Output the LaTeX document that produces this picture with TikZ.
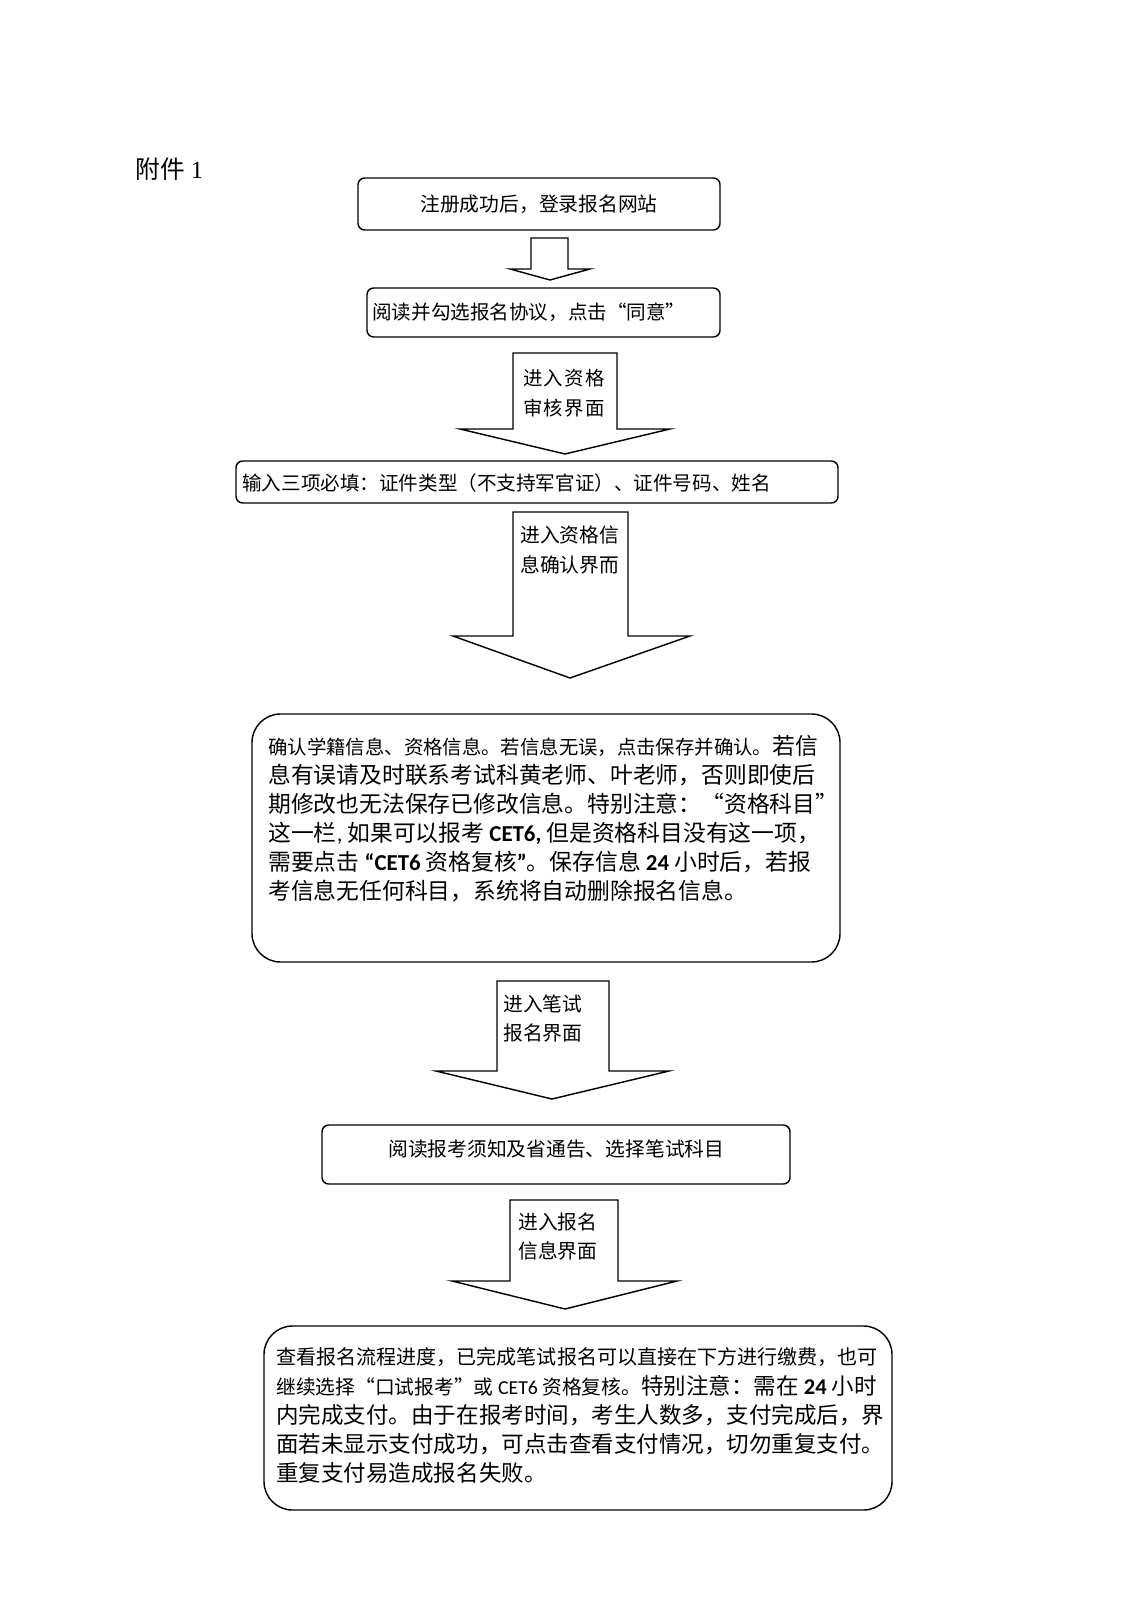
\documentclass[tikz,border=0pt]{standalone}
\usepackage{fontspec}
\setmainfont{Liberation Serif}
\newfontfamily\cjk{Noto Sans CJK SC}
\newfontfamily\cjksp{Noto Sans CJK SC}[LetterSpace=6]
\newfontfamily\latb{Carlito}
\usetikzlibrary{fit}
\newcommand{\fsz}[1]{\fontsize{#1}{#1}\selectfont}
\begin{document}
\begin{tikzpicture}[x=0.5263pt,y=-0.5263pt,
  box/.style={draw, line width=0.75pt, rounded corners=3.5pt, inner sep=0pt},
  bigbox/.style={draw, line width=0.75pt, rounded corners=15pt, inner sep=0pt},
  blockarrow/.style={draw, line width=0.75pt, line join=miter},
  txt/.style={inner sep=0pt, anchor=west, font=\cjk\fsz{10.4}},
  small/.style={inner sep=0pt, anchor=west, font=\cjk\fsz{10.3}},
  large/.style={inner sep=0pt, anchor=west, font=\cjk\fsz{12}},
  lbl/.style={inner sep=0pt, anchor=west, font=\cjk\fsz{10.4}}]
\useasboundingbox (0,0) rectangle (1131,1600);

% title
\node[inner sep=0pt, anchor=west, font=\fsz{13}] (title) at (135,169) {{\cjk 附件} 1};

% box 1
\node[box, fit={(358,178) (720,230)}] (b1) {};
\node[txt, anchor=center] (t1) at (b1.center) {注册成功后，登录报名网站};

% arrow 1
\draw[blockarrow] (531,238) -- (531,269) -- (510,269) -- (550,280) -- (590,269) -- (568,269) -- (568,238) -- cycle;

% box 2
\node[box, fit={(367,288) (720,337)}] (b2) {};
\node[small] (t2) at (372,312) {阅读并勾选报名协议，点击“同意”};

% arrow 2
\draw[blockarrow] (513,353) -- (513,429) -- (460,429) -- (565,454) -- (670,429) -- (617,429) -- (617,353) -- cycle;
\node[lbl, font=\cjksp\fsz{10.2}] (a2a) at (523,378) {进入资格};
\node[lbl, font=\cjksp\fsz{10.2}] (a2b) at (523,408) {审核界面};

% box 3
\node[box, fit={(236,461) (838,503)}] (b3) {};
\node[small] (t3) at (242,483) {输入三项必填：证件类型（不支持军官证）、证件号码、姓名};

% arrow 3
\draw[blockarrow] (513,512) -- (513,636) -- (453,636) -- (570,678) -- (690,636) -- (628,636) -- (628,512) -- cycle;
\node[lbl] (a3a) at (520,535) {进入资格信};
\node[lbl] (a3b) at (520,565) {息确认界而};

% box 4
\node[bigbox, fit={(252,714) (840,962)}] (b4) {};
\node[large] (l41) at (268,746) {{\fsz{10.2}确认学籍信息、资格信息。若信息无误，点击保存并确认。}若信};
\node[large] (l42) at (268,775) {息有误请及时联系考试科黄老师、叶老师，否则即使后};
\node[large] (l43) at (268,804) {期修改也无法保存已修改信息。特别注意：“资格科目”};
\node[large] (l44) at (268,833) {这一栏{\latb ,} 如果可以报考 {\latb\bfseries CET6,} 但是资格科目没有这一项，};
\node[large] (l45) at (268,862) {需要点击 {\latb\bfseries “CET6} 资格复核{\latb\bfseries ”}。保存信息 {\latb\bfseries 24} 小时后，若报};
\node[large] (l46) at (268,891) {考信息无任何科目，系统将自动删除报名信息。};

% arrow 4
\draw[blockarrow] (497,981) -- (497,1071) -- (436,1071) -- (552,1099) -- (669,1071) -- (609,1071) -- (609,981) -- cycle;
\node[lbl] (a4a) at (503,1004) {进入笔试};
\node[lbl] (a4b) at (503,1033) {报名界面};

% box 5
\node[box, fit={(322,1125) (790,1184)}] (b5) {};
\node[txt] (t5) at (388,1149) {阅读报考须知及省通告、选择笔试科目};

% arrow 5
\draw[blockarrow] (510,1200) -- (510,1281) -- (452,1281) -- (565,1309) -- (677,1281) -- (618,1281) -- (618,1200) -- cycle;
\node[lbl] (a5a) at (518,1222) {进入报名};
\node[lbl] (a5b) at (518,1251) {信息界面};

% box 6
\node[bigbox, fit={(264,1326) (892,1510)}] (b6) {};
\node[txt, font=\cjk\fsz{10.55}] (l61) at (276,1357) {查看报名流程进度，已完成笔试报名可以直接在下方进行缴费，也可};
\node[large, font=\cjk\fsz{11.85}] (l62) at (276,1386) {{\fsz{10.4}继续选择“口试报考”或 {\latb CET6} 资格复核。}特别注意：需在 {\latb\bfseries 24} 小时};
\node[large, font=\cjk\fsz{11.85}] (l63) at (276,1415) {内完成支付。由于在报考时间，考生人数多，支付完成后，界};
\node[large, font=\cjk\fsz{11.85}] (l64) at (276,1444) {面若未显示支付成功，可点击查看支付情况，切勿重复支付。};
\node[large, font=\cjk\fsz{11.85}] (l65) at (276,1473) {重复支付易造成报名失败。};
\end{tikzpicture}
\end{document}
